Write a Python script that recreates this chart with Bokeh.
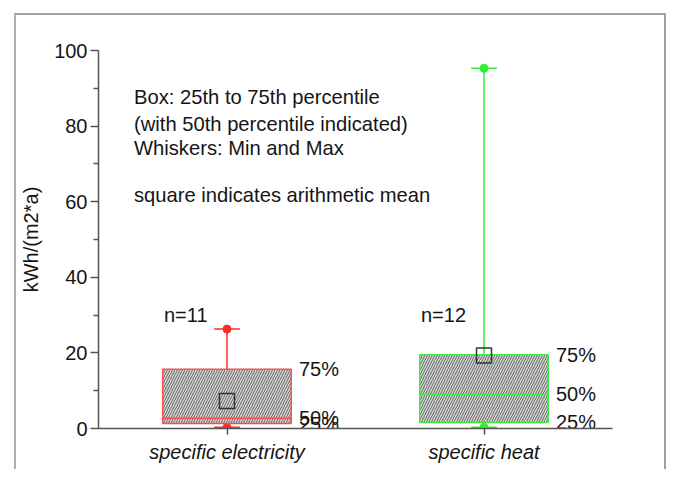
from bokeh.plotting import figure
from bokeh.models import FactorRange, Range1d, FixedTicker, ColumnDataSource, InlineStyleSheet
from bokeh.transform import dodge
from bokeh.core.properties import value
from bokeh.embed import file_html
from bokeh.resources import INLINE

# ---- data ----
categories = ["specific electricity", "specific heat"]
q1 = [1.3, 1.6]
median = [2.7, 9.0]
q3 = [15.7, 19.5]
mean = [7.3, 19.3]
vmin = [0.3, 0.3]
vmax = [26.3, 95.3]
n_count = [11, 12]
box_colors = ["#ff4d4d", "#40e840"]
whisker_colors = ["#ff2a2a", "#33ee33"]
y_ticks = [0, 20, 40, 60, 80, 100]
y_minor = [10, 30, 50, 70, 90]
note_lines = ["Box: 25th to 75th percentile",
              "(with 50th percentile indicated)",
              "Whiskers: Min and Max",
              "square indicates arithmetic mean"]
note_y = [87.6, 80.6, 74.2, 61.8]

FONT = "Liberation Sans"
TXT = "#151515"

frame_css = InlineStyleSheet(css="""
:host::after {
  content: "";
  position: absolute;
  left: 14px; top: 13px; right: 2px; bottom: 0px;
  border-top: 2px solid #a0a0a0;
  border-left: 2px solid #b0b0b0;
  border-right: 2px solid #a0a0a0;
  pointer-events: none;
}
""")

p = figure(width=668, height=469, frame_width=514, frame_height=378,
           x_range=FactorRange(*categories, range_padding=0),
           y_range=Range1d(0, 100),
           output_backend="svg", toolbar_location=None,
           min_border_left=98, min_border_right=56,
           min_border_top=50, min_border_bottom=41,
           stylesheets=[frame_css])
p.outline_line_color = None
p.grid.visible = False
p.background_fill_color = "white"
p.border_fill_color = "white"

src = ColumnDataSource(dict(cat=categories, q1=q1, median=median, q3=q3,
                            mean=mean, vmin=vmin, vmax=vmax,
                            bc=box_colors, wc=whisker_colors,
                            ntxt=["n=%d" % n for n in n_count]))

# whiskers
p.segment(x0="cat", y0="q3", x1="cat", y1="vmax", source=src, line_color="wc", line_width=1.5)
p.segment(x0="cat", y0="q1", x1="cat", y1="vmin", source=src, line_color="wc", line_width=1.5)
# caps
for col in ["vmax", "vmin"]:
    p.segment(x0=dodge("cat", -0.05, range=p.x_range), y0=col,
              x1=dodge("cat", 0.05, range=p.x_range), y1=col,
              source=src, line_color="wc", line_width=1.5)
    p.scatter(x="cat", y=col, source=src, size=8, marker="circle",
              fill_color="wc", line_color="wc")

# boxes
p.vbar(x="cat", width=0.5, bottom="q1", top="q3", source=src,
       fill_color="#d8d8d8", line_color="bc", line_width=1.5,
       hatch_pattern="/", hatch_color="#606060", hatch_scale=5, hatch_weight=1)
p.segment(x0=dodge("cat", -0.25, range=p.x_range), y0="median",
          x1=dodge("cat", 0.25, range=p.x_range), y1="median",
          source=src, line_color="bc", line_width=1.5)

# mean squares
p.scatter(x="cat", y="mean", source=src, marker="square", size=15,
          fill_color=None, line_color="#333333", line_width=1.5)

# percentile labels
for col, txt in [("q3", "75%"), ("median", "50%"), ("q1", "25%")]:
    p.text(x="cat", y=col, text=value(txt), source=src, x_offset=72,
           text_baseline="middle", text_align="left",
           text_font=value(FONT), text_font_size="20px", text_color=TXT)

# n labels
p.text(x="cat", y=30, text="ntxt", source=src, x_offset=-63,
       text_baseline="middle", text_align="left",
       text_font=value(FONT), text_font_size="20px", text_color=TXT)

# note text
p.text(x=[categories[0]] * len(note_lines), y=note_y, text=note_lines, x_offset=-93,
       text_baseline="middle", text_align="left",
       text_font=value(FONT), text_font_size="20.2px", text_color=TXT)

# axes
ax = p.yaxis[0]
ax.ticker = FixedTicker(ticks=y_ticks, minor_ticks=y_minor)
ax.axis_label = "kWh/(m2*a)"
ax.axis_label_text_font = FONT
ax.axis_label_text_font_size = "20px"
ax.axis_label_text_font_style = "normal"
ax.axis_label_text_color = TXT
ax.axis_label_standoff = 9
ax.major_label_text_font = FONT
ax.major_label_text_font_size = "20px"
ax.major_label_text_color = TXT
ax.major_label_standoff = 3
ax.major_tick_in = 0
ax.major_tick_out = 8
ax.minor_tick_in = 0
ax.minor_tick_out = 5
for a in (ax, p.xaxis[0]):
    a.axis_line_color = "#555555"
    a.axis_line_width = 1.5
    a.major_tick_line_color = "#555555"
    a.major_tick_line_width = 1.5
    a.minor_tick_line_color = "#555555"
    a.minor_tick_line_width = 1.5

xa = p.xaxis[0]
xa.major_label_text_font = FONT
xa.major_label_text_font_size = "20px"
xa.major_label_text_font_style = "italic"
xa.major_label_text_color = TXT
xa.major_label_standoff = 6
xa.major_tick_in = 0
xa.major_tick_out = 6
xa.group_text_font_size = "0px"

open("out.html", "w").write(file_html(p, INLINE))
